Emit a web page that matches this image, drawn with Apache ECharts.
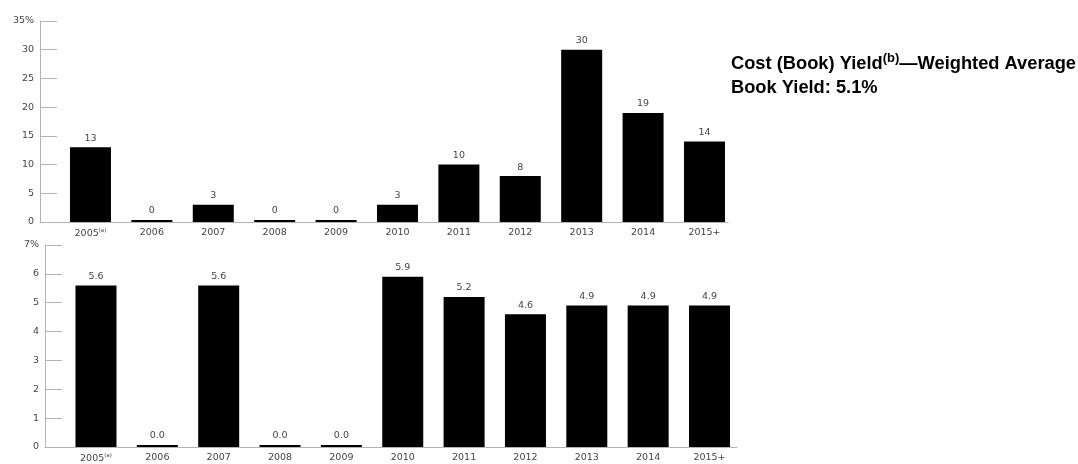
<!DOCTYPE html>
<html>
<head>
<meta charset="utf-8">
<script src="https://cdn.jsdelivr.net/npm/echarts@6/dist/echarts.min.js"></script>
<style>
html,body{margin:0;padding:0;background:#fff;}
#chart{width:1078px;height:464px;}
</style>
</head>
<body>
<div id="chart"></div>
<script>
var categories = ['2005{sup|(a)}', '2006', '2007', '2008', '2009', '2010', '2011', '2012', '2013', '2014', '2015+'];
var maturityPct = [13, 0, 3, 0, 0, 3, 10, 8, 30, 19, 14];
var bookYield = [5.6, 0.0, 5.6, 0.0, 0.0, 5.9, 5.2, 4.6, 4.9, 4.9, 4.9];
var topTicks = [0, 5, 10, 15, 20, 25, 30, 35];
var bottomTicks = [0, 1, 2, 3, 4, 5, 6, 7];
var titleLine1 = 'Cost (Book) Yield{sup|(b)}—Weighted Average';
var titleLine2 = 'Book Yield: 5.1%';

var FONT = 'DejaVu Sans';
var idx = categories.map(function (c, i) { return i; });
var labelColor = '#444';
var axisGray = '#b4b4b4';

function xAxisCfg(gridIndex, min, max) {
  return {
    type: 'value', gridIndex: gridIndex, min: min, max: max,
    splitLine: {show: false},
    axisLine: {show: true, onZero: false, lineStyle: {color: axisGray, width: 1}},
    axisTick: {show: false},
    axisLabel: {
      customValues: idx,
      color: labelColor, fontFamily: FONT, fontSize: 9.5, margin: 6,
      formatter: function (v) { return categories[Math.round(v)]; },
      rich: {sup: {fontSize: 5.5, color: labelColor, fontFamily: FONT, padding: [0, 0, 6, 0]}}
    }
  };
}
function yAxisCfg(gridIndex, ticks) {
  var top = ticks[ticks.length - 1];
  return {
    type: 'value', gridIndex: gridIndex, min: 0, max: top, interval: ticks[1] - ticks[0],
    splitLine: {show: false},
    axisLine: {show: true, onZero: false, lineStyle: {color: axisGray, width: 1}},
    axisTick: {show: true, inside: true, length: 17, lineStyle: {color: axisGray, width: 1}},
    axisLabel: {
      color: labelColor, fontFamily: FONT, fontSize: 9.5, margin: 6,
      formatter: function (v) { return v === top ? v + '%' : String(v); }
    }
  };
}
function barSeries(axisIndex, values, fmt) {
  return {
    type: 'bar', xAxisIndex: axisIndex, yAxisIndex: axisIndex,
    data: values.map(function (v, i) { return [i, v]; }),
    barWidth: 41, barMinHeight: 2,
    itemStyle: {color: '#000'},
    label: {
      show: true, position: 'top', distance: 4,
      color: labelColor, fontFamily: FONT, fontSize: 9.5,
      formatter: function (p) { return fmt(p.value[1]); }
    },
    silent: true, animation: false
  };
}

var chart = echarts.init(document.getElementById('chart'), null, {renderer: 'canvas'});
chart.setOption({
  animation: false,
  backgroundColor: '#fff',
  title: [
    {
      text: titleLine1, left: 726, top: 47,
      textStyle: {
        fontFamily: 'Liberation Sans', fontWeight: 'bold', fontSize: 18.3, color: '#000',
        rich: {sup: {fontFamily: 'Liberation Sans', fontWeight: 'bold', fontSize: 13, color: '#000', padding: [0, 0, 10, 0]}}
      }
    },
    {
      text: titleLine2, left: 726, top: 74,
      textStyle: {fontFamily: 'Liberation Sans', fontWeight: 'bold', fontSize: 18.3, color: '#000'}
    }
  ],
  grid: [
    {left: 40, right: 350, top: 21, bottom: 242},
    {left: 45, right: 341, top: 245, bottom: 17}
  ],
  xAxis: [xAxisCfg(0, -0.822, 10.383), xAxisCfg(1, -0.831, 10.448)],
  yAxis: [yAxisCfg(0, topTicks), yAxisCfg(1, bottomTicks)],
  series: [
    barSeries(0, maturityPct, function (v) { return String(v); }),
    barSeries(1, bookYield, function (v) { return v.toFixed(1); })
  ]
});
</script>
</body>
</html>
